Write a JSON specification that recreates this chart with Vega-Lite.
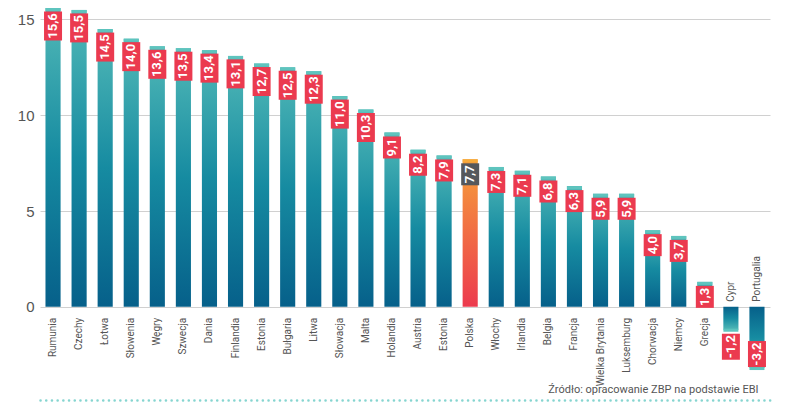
{
  "$schema": "https://vega.github.io/schema/vega-lite/v6.json",
  "autosize": "none",
  "width": 730,
  "height": 361,
  "padding": {"left": 40, "top": 8, "right": 16, "bottom": 42},
  "background": "white",
  "config": {
    "view": {"stroke": null},
    "locale": {"number": {"decimal": ",", "thousands": " ", "grouping": [3], "currency": ["", " zł"], "minus": "-"}}
  },
  "data": {"values": [
    {"n": 1, "kraj": "Rumunia", "v": 15.6},
    {"n": 2, "kraj": "Czechy", "v": 15.5},
    {"n": 3, "kraj": "Łotwa", "v": 14.5},
    {"n": 4, "kraj": "Słowenia", "v": 14.0},
    {"n": 5, "kraj": "Węgry", "v": 13.6},
    {"n": 6, "kraj": "Szwecja", "v": 13.5},
    {"n": 7, "kraj": "Dania", "v": 13.4},
    {"n": 8, "kraj": "Finlandia", "v": 13.1},
    {"n": 9, "kraj": "Estonia", "v": 12.7},
    {"n": 10, "kraj": "Bułgaria", "v": 12.5},
    {"n": 11, "kraj": "Litwa", "v": 12.3},
    {"n": 12, "kraj": "Słowacja", "v": 11.0},
    {"n": 13, "kraj": "Malta", "v": 10.3},
    {"n": 14, "kraj": "Holandia", "v": 9.1},
    {"n": 15, "kraj": "Austria", "v": 8.2},
    {"n": 16, "kraj": "Estonia", "v": 7.9},
    {"n": 17, "kraj": "Polska", "v": 7.7},
    {"n": 18, "kraj": "Włochy", "v": 7.3},
    {"n": 19, "kraj": "Irlandia", "v": 7.1},
    {"n": 20, "kraj": "Belgia", "v": 6.8},
    {"n": 21, "kraj": "Francja", "v": 6.3},
    {"n": 22, "kraj": "Wielka Brytania", "v": 5.9},
    {"n": 23, "kraj": "Luksemburg", "v": 5.9},
    {"n": 24, "kraj": "Chorwacja", "v": 4.0},
    {"n": 25, "kraj": "Niemcy", "v": 3.7},
    {"n": 26, "kraj": "Grecja", "v": 1.3},
    {"n": 27, "kraj": "Cypr", "v": -1.2},
    {"n": 28, "kraj": "Portugalia", "v": -3.2}
  ]},
  "encoding": {
    "x": {
      "field": "n", "type": "ordinal", "sort": "ascending",
      "scale": {"paddingInner": 0.42, "paddingOuter": 0.21},
      "axis": {
        "orient": "bottom", "offset": 31, "labels": false, "ticks": false, "grid": false,
        "domain": true, "domainColor": "#86d5d0", "domainWidth": 2.5, "domainDash": [0.1, 5.6], "domainCap": "round",
        "title": "Źródło: opracowanie ZBP na podstawie EBI",
        "titleX": 718, "titleY": -8, "titleAlign": "right", "titleBaseline": "alphabetic", "titleAnchor": null,
        "titleFont": "Roboto, sans-serif",
        "titleFontSize": 11, "titleFontWeight": "normal", "titleColor": "#555555"
      }
    },
    "y": {
      "field": "v", "type": "quantitative",
      "scale": {"domain": [-3.25, 15.6], "nice": false, "zero": false},
      "axis": {
        "values": [0, 5, 10, 15], "title": null, "domain": false, "ticks": false,
        "grid": true, "gridColor": "#d0d0d0", "gridWidth": 1,
        "labelFont": "Liberation Sans, Arial, sans-serif", "labelFontSize": 15, "labelColor": "#555555", "labelPadding": 6
      }
    }
  },
  "layer": [
    {
      "transform": [{"filter": "datum.v > 0 && datum.kraj != 'Polska'"}],
      "mark": {"type": "bar", "color": {"gradient": "linear", "x1": 0, "y1": 0, "x2": 0, "y2": 1,
        "stops": [{"offset": 0, "color": "#52b9b7"}, {"offset": 0.5, "color": "#168ba1"}, {"offset": 1, "color": "#06608a"}]}}
    },
    {
      "transform": [{"filter": "datum.kraj == 'Polska'"}],
      "mark": {"type": "bar", "color": {"gradient": "linear", "x1": 0, "y1": 0, "x2": 0, "y2": 1,
        "stops": [{"offset": 0, "color": "#f6a03a"}, {"offset": 1, "color": "#ec3a4e"}]}}
    },
    {
      "transform": [{"filter": "datum.v < 0"}],
      "mark": {"type": "bar", "color": {"gradient": "linear", "x1": 0, "y1": 0, "x2": 0, "y2": 1,
        "stops": [{"offset": 0, "color": "#06608a"}, {"offset": 0.5, "color": "#168ba1"}, {"offset": 1, "color": "#52b9b7"}]}}
    },
    {
      "transform": [{"filter": "datum.v > 0"}],
      "mark": {"type": "tick", "size": 15, "thickness": 3, "yOffset": 1.5, "opacity": 1},
      "encoding": {"color": {"condition": {"test": "datum.kraj == 'Polska'", "value": "#f7ab3a"}, "value": "#5ec4be"}}
    },
    {
      "transform": [{"filter": "datum.v < 0"}],
      "mark": {"type": "tick", "size": 15, "thickness": 3, "yOffset": 0.5, "opacity": 1, "color": "#5ec4be"}
    },
    {
      "transform": [{"filter": "datum.v > 0"}],
      "mark": {"type": "text", "angle": 270, "align": "right", "baseline": "middle", "yOffset": 11,
        "font": "Roboto, sans-serif", "fontSize": 10, "color": "#555555"},
      "encoding": {"y": {"datum": 0}, "text": {"field": "kraj"}}
    },
    {
      "transform": [{"filter": "datum.v < 0"}],
      "mark": {"type": "text", "angle": 270, "align": "left", "baseline": "middle", "yOffset": -5,
        "font": "Roboto, sans-serif", "fontSize": 10, "color": "#555555"},
      "encoding": {"y": {"datum": 0}, "text": {"field": "kraj"}}
    },
    {
      "transform": [{"filter": "datum.v >= 10"}],
      "layer": [
        {"mark": {"type": "tick", "size": 18, "thickness": 29, "yOffset": 18, "color": "#eb3a4f", "opacity": 1}},
        {"mark": {"type": "text", "angle": 270, "align": "center", "baseline": "middle", "yOffset": 18,
          "font": "Roboto, sans-serif", "fontSize": 13, "fontWeight": "bold", "color": "white"},
         "encoding": {"text": {"field": "v", "type": "quantitative", "format": ".1f"}}}
      ]
    },
    {
      "transform": [{"filter": "datum.v > 0 && datum.v < 10"}],
      "layer": [
        {"mark": {"type": "tick", "size": 18, "thickness": 22, "yOffset": 15, "opacity": 1},
         "encoding": {"color": {"condition": {"test": "datum.kraj == 'Polska'", "value": "#54585c"}, "value": "#eb3a4f"}}},
        {"mark": {"type": "text", "angle": 270, "align": "center", "baseline": "middle", "yOffset": 15,
          "font": "Roboto, sans-serif", "fontSize": 13, "fontWeight": "bold", "color": "white"},
         "encoding": {"text": {"field": "v", "type": "quantitative", "format": ".1f"}}}
      ]
    },
    {
      "transform": [{"filter": "datum.kraj == 'Cypr'"}],
      "layer": [
        {"mark": {"type": "tick", "size": 18, "thickness": 26, "yOffset": 17, "color": "#eb3a4f", "opacity": 1}},
        {"mark": {"type": "text", "angle": 270, "align": "center", "baseline": "middle", "yOffset": 17,
          "font": "Roboto, sans-serif", "fontSize": 13, "fontWeight": "bold", "color": "white"},
         "encoding": {"text": {"field": "v", "type": "quantitative", "format": ".1f"}}}
      ]
    },
    {
      "transform": [{"filter": "datum.kraj == 'Portugalia'"}],
      "layer": [
        {"mark": {"type": "tick", "size": 18, "thickness": 26, "yOffset": -14, "color": "#eb3a4f", "opacity": 1}},
        {"mark": {"type": "text", "angle": 270, "align": "center", "baseline": "middle", "yOffset": -14,
          "font": "Roboto, sans-serif", "fontSize": 13, "fontWeight": "bold", "color": "white"},
         "encoding": {"text": {"field": "v", "type": "quantitative", "format": ".1f"}}}
      ]
    }
  ]
}
